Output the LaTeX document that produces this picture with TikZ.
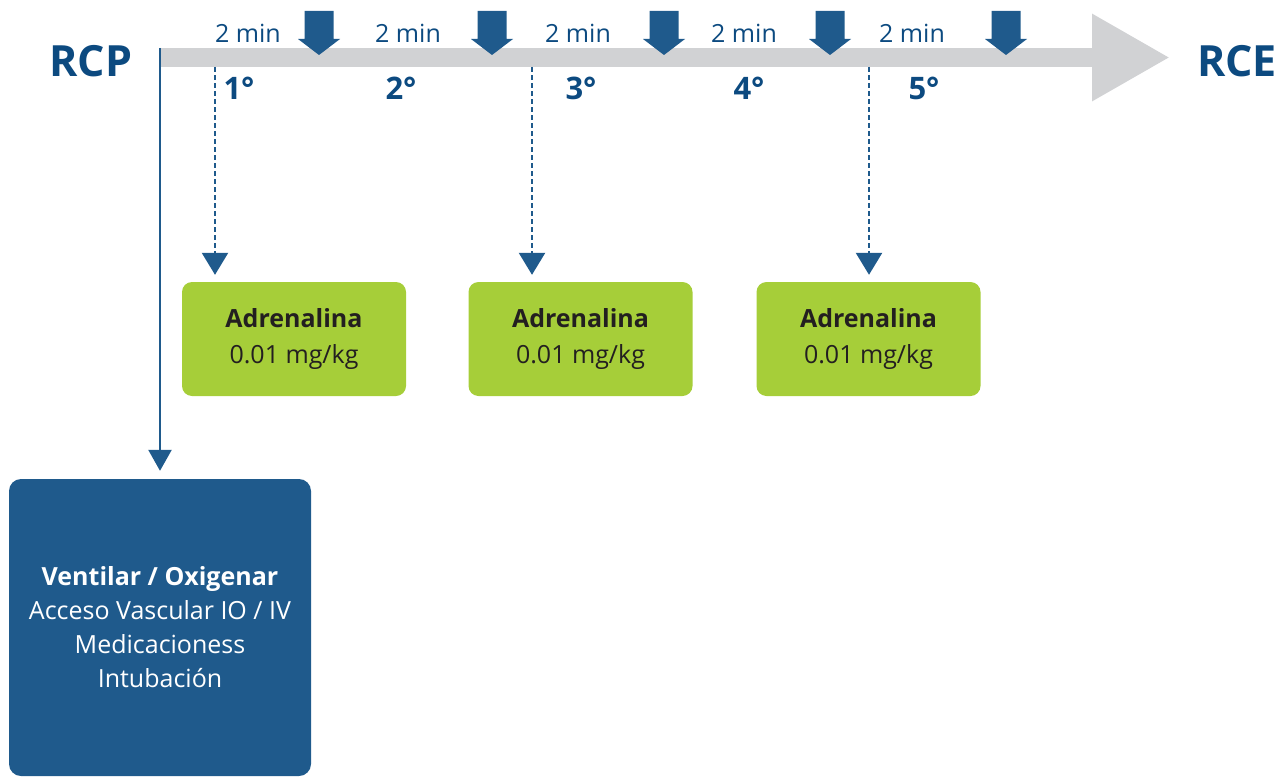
\documentclass[tikz,border=0pt]{standalone}
\usepackage{fontspec}
\setmainfont{Open Sans}
\usetikzlibrary{arrows.meta, positioning}
\definecolor{rcpblue}{RGB}{12, 74, 128}
\definecolor{boxblue}{RGB}{31, 90, 140}
\definecolor{adrgreen}{RGB}{166, 206, 57}
\definecolor{bargray}{RGB}{209, 210, 212}
\definecolor{inkdark}{RGB}{35, 31, 32}

\begin{document}
\begin{tikzpicture}[x=1pt, y=-1pt,
  endlabel/.style={font=\fontsize{43}{43}\selectfont\bfseries, text=rcpblue},
  minlabel/.style={font=\fontsize{25}{25}\selectfont, text=rcpblue},
  cyclelabel/.style={font=\fontsize{31}{31}\selectfont\bfseries, text=rcpblue},
  drugbox/.style={fill=adrgreen, rounded corners=10pt, minimum width=224pt, minimum height=114pt, align=center, text=inkdark, font=\fontsize{25}{36}\selectfont},
  actionbox/.style={fill=boxblue, rounded corners=12pt, minimum width=302pt, minimum height=297pt, align=center, text=white, font=\fontsize{25}{34}\selectfont},
  dosearrow/.style={draw=boxblue, line width=2.5pt, dash pattern=on 5pt off 3pt, -{Triangle[width=26pt, length=22pt]}, shorten >=7pt},
  mainarrow/.style={draw=boxblue, line width=2.5pt, -{Triangle[width=23pt, length=21pt]}, shorten >=8pt}
]
  \useasboundingbox (0,0) rectangle (1287,776);

  % timeline
  \coordinate (barstart) at (160,57.5);
  \coordinate (barend) at (1170,57.5);
  \draw[bargray, line width=19pt, -{Triangle[length=78pt, width=82pt]}] (barstart) -- (barend);

  \node[endlabel] (rcp) at (91,61) {RCP};
  \node[endlabel] (rce) at (1237,61) {RCE};

  % rhythm checks every 2 min
  \foreach \x in {319,492,664,830,1006}
    \fill[boxblue] ({\x-14.5},11) -- ({\x+14.5},11) -- ({\x+14.5},39) -- ({\x+21},39)
      -- (\x,55) -- ({\x-21},39) -- ({\x-14.5},39) -- cycle;

  \foreach \x [count=\i] in {248,408,578,744,912}
    \node[minlabel] (min\i) at (\x,33) {2 min};

  \foreach \x [count=\i] in {239,401,581,749,924}
    \node[cyclelabel] (cycle\i) at (\x,88) {\i°};

  % adrenaline doses
  \node[drugbox] (drug1) at (294,339) {\textbf{Adrenalina}\\0.01 mg/kg};
  \node[drugbox] (drug2) at (580.5,339) {\textbf{Adrenalina}\\0.01 mg/kg};
  \node[drugbox] (drug3) at (868.5,339) {\textbf{Adrenalina}\\0.01 mg/kg};

  \coordinate (dose1) at (215,67);
  \coordinate (dose2) at (532,67);
  \coordinate (dose3) at (869,67);
  \draw[dosearrow] (dose1) -- (dose1 |- drug1.north);
  \draw[dosearrow] (dose2) -- (dose2 |- drug2.north);
  \draw[dosearrow] (dose3) -- (dose3 |- drug3.north);

  % actions
  \node[actionbox] (action) at (160,627.5)
    {\textbf{Ventilar / Oxigenar}\\Acceso Vascular IO / IV\\Medicacioness\\Intubación};
  \coordinate (cpr) at (160,48);
  \draw[mainarrow] (cpr) -- (action.north);
\end{tikzpicture}
\end{document}
